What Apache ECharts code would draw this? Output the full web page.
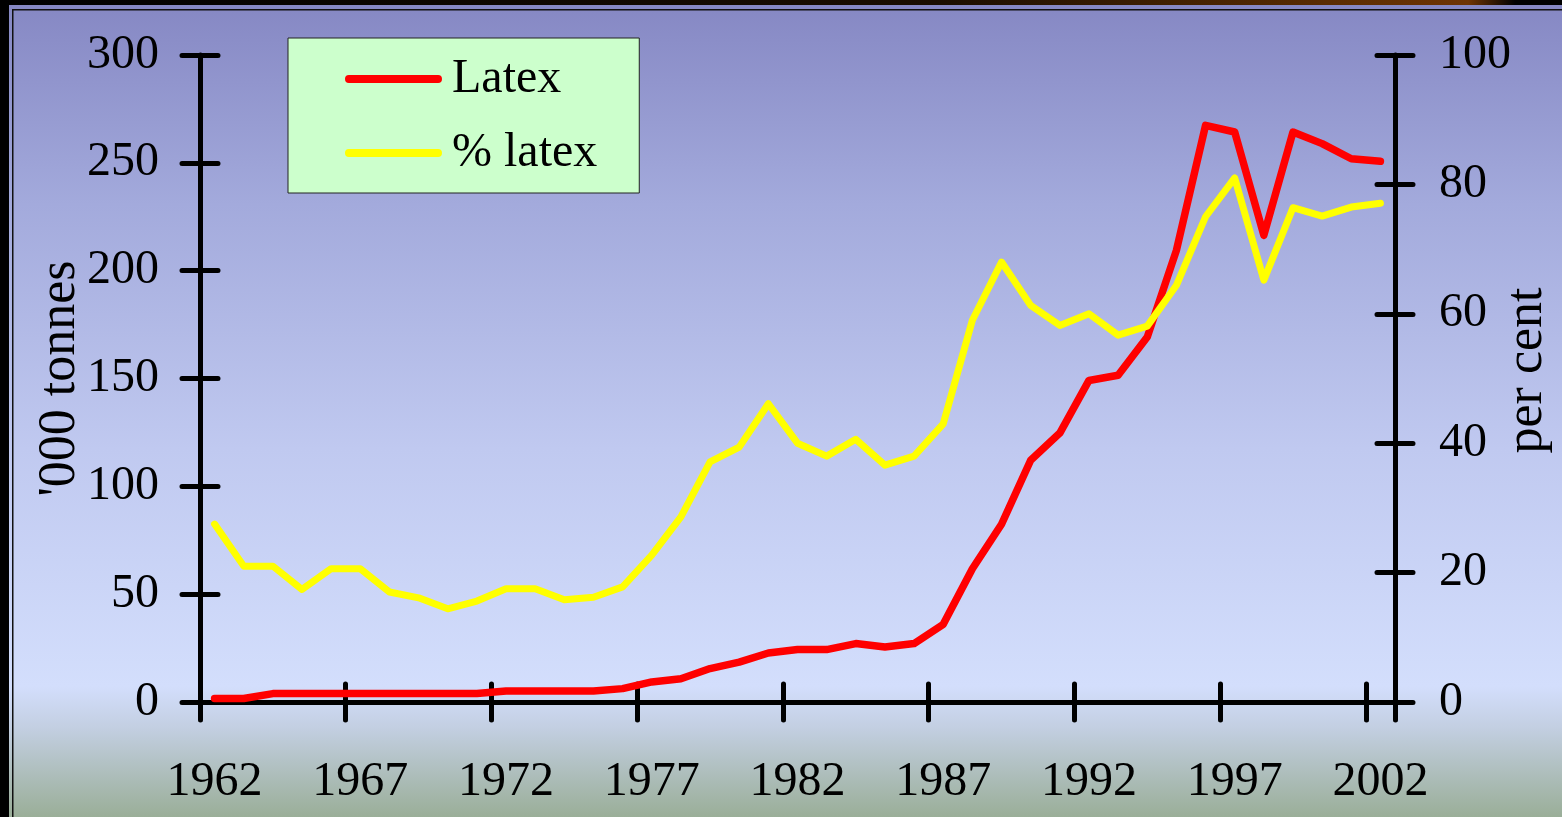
<!DOCTYPE html>
<html>
<head>
<meta charset="utf-8">
<script src="https://cdn.jsdelivr.net/npm/echarts@6/dist/echarts.min.js"></script>
<style>
  html, body { margin: 0; padding: 0; }
  #chart {
    width: 1562px; height: 817px;
    background: linear-gradient(to bottom, #8587c3 0%, #a3aadc 25%, #c0c9f0 55%, #d3defc 84%, #c3cfe2 89%, #9aae98 100%);
  }
</style>
</head>
<body>
<div id="chart"></div>
<script>
const years = ['1962','1963','1964','1965','1966','1967','1968','1969','1970','1971',
  '1972','1973','1974','1975','1976','1977','1978','1979','1980','1981',
  '1982','1983','1984','1985','1986','1987','1988','1989','1990','1991',
  '1992','1993','1994','1995','1996','1997','1998','1999','2000','2001','2002'];

// Latex, '000 tonnes (left axis)
const latex = [1.6, 1.6, 3.9, 3.9, 3.9, 3.9, 3.9, 3.9, 3.9, 3.9,
  5.1, 5.1, 5.1, 5.1, 6.2, 9.3, 10.8, 15.5, 18.5, 22.7,
  24.3, 24.3, 27.1, 25.5, 27.1, 36.0, 61.8, 82.4, 112.1, 124.7,
  149.1, 151.5, 169.2, 209.4, 267.4, 264.3, 216.4, 264.3, 258.9, 251.9, 250.7];

// % latex, per cent (right axis)
const pctLatex = [27.5, 21.0, 21.0, 17.4, 20.6, 20.6, 17.0, 16.1, 14.4, 15.6,
  17.5, 17.5, 15.8, 16.2, 17.8, 22.7, 28.6, 37.1, 39.4, 46.1,
  40.0, 38.0, 40.6, 36.6, 38.0, 43.0, 59.0, 68.0, 61.3, 58.2,
  60.0, 56.7, 58.1, 64.4, 75.0, 81.0, 65.2, 76.4, 75.1, 76.5, 77.1];

const seriesNames = ['Latex', '% latex'];
const leftAxisName = "'000 tonnes";
const rightAxisName = 'per cent';

const FONT = "'Liberation Serif', 'Times New Roman', serif";
const tickStyle = { color: '#000', width: 5, cap: 'round' };

const chart = echarts.init(document.getElementById('chart'), null, { renderer: 'canvas' });

chart.setOption({
  backgroundColor: 'transparent',
  animation: false,
  grid: { left: 200, right: 167, top: 55, bottom: 115, containLabel: false, outerBoundsMode: 'none' },
  legend: {
    left: 288, top: 38, orient: 'vertical',
    backgroundColor: '#ccffcc', borderColor: '#222', borderWidth: 1,
    padding: [15, 42, 14, 57],
    itemWidth: 97, itemHeight: 8, itemGap: 22,
    icon: 'path://M4,0 L96,0 A4,4 0 0 1 96,8 L4,8 A4,4 0 0 1 4,0 Z',
    itemStyle: { borderWidth: 0 },
    textStyle: { fontFamily: FONT, fontSize: 48, color: '#000', lineHeight: 50, padding: [2, 0, 0, 5] },
    data: seriesNames
  },
  xAxis: [
    {
      type: 'category', data: years, position: 'bottom', boundaryGap: true,
      axisLine: { show: true, lineStyle: { color: '#000', width: 5 } },
      axisTick: { show: true, interval: 4, length: 18, lineStyle: tickStyle },
      axisLabel: { interval: 4, fontFamily: FONT, fontSize: 48, color: '#000', margin: 56 },
      splitLine: { show: false }
    },
    {
      type: 'category', data: years, position: 'bottom', boundaryGap: true,
      axisLine: { show: false },
      axisTick: { show: true, inside: true, interval: 4, length: 18, lineStyle: tickStyle },
      axisLabel: { show: false },
      splitLine: { show: false }
    }
  ],
  yAxis: [
    {
      type: 'value', position: 'left', min: 0, max: 300, interval: 50,
      axisLine: { show: true, lineStyle: { color: '#000', width: 5 } },
      axisTick: { show: true, length: 18, lineStyle: tickStyle },
      axisLabel: { fontFamily: FONT, fontSize: 48, color: '#000', margin: 41 },
      splitLine: { show: false },
      name: leftAxisName, nameLocation: 'middle', nameRotate: 90, nameGap: 114,
      nameMoveOverlap: false,
      nameTextStyle: { fontFamily: FONT, fontSize: 52, color: '#000' }
    },
    {
      type: 'value', position: 'right', min: 0, max: 100, interval: 20,
      axisLine: { show: true, lineStyle: { color: '#000', width: 5 } },
      axisTick: { show: true, length: 18, lineStyle: tickStyle },
      axisLabel: { fontFamily: FONT, fontSize: 48, color: '#000', margin: 44 },
      splitLine: { show: false },
      name: rightAxisName, nameLocation: 'middle', nameRotate: 90, nameGap: 106,
      nameMoveOverlap: false,
      nameTextStyle: { fontFamily: FONT, fontSize: 52, color: '#000', padding: [0, 0, 0, 16] }
    },
    {
      type: 'value', position: 'left', min: 0, max: 300, interval: 50,
      axisLine: { show: false },
      axisTick: { show: true, inside: true, length: 18, lineStyle: tickStyle },
      axisLabel: { show: false }, splitLine: { show: false }
    },
    {
      type: 'value', position: 'right', min: 0, max: 100, interval: 20,
      axisLine: { show: false },
      axisTick: { show: true, inside: true, length: 18, lineStyle: tickStyle },
      axisLabel: { show: false }, splitLine: { show: false }
    }
  ],
  series: [
    {
      name: seriesNames[0], type: 'line', xAxisIndex: 0, yAxisIndex: 0,
      data: latex, showSymbol: false, symbol: 'none',
      itemStyle: { color: '#ff0000' },
      lineStyle: { color: '#ff0000', width: 7.5, cap: 'round', join: 'round' },
      z: 3
    },
    {
      name: seriesNames[1], type: 'line', xAxisIndex: 0, yAxisIndex: 1,
      data: pctLatex, showSymbol: false, symbol: 'none',
      itemStyle: { color: '#ffff00' },
      lineStyle: { color: '#ffff00', width: 7, cap: 'round', join: 'round' },
      z: 4
    }
  ],
  graphic: [
    { type: 'rect', left: 0, top: 0, shape: { width: 9, height: 817 }, style: { fill: '#000' }, z: 100 },
    { type: 'rect', left: 12, top: 9, shape: { width: 1.5, height: 808 }, style: { fill: '#111' }, z: 100 },
    { type: 'rect', left: 0, top: 0, shape: { width: 1562, height: 5 },
      style: { fill: new echarts.graphic.LinearGradient(0, 0, 1, 0, [
        { offset: 0, color: '#000' }, { offset: 0.6, color: '#1a0d00' },
        { offset: 0.85, color: '#5a2c02' }, { offset: 0.94, color: '#6e3404' }, { offset: 0.97, color: '#000' }, { offset: 1, color: '#000' }
      ]) }, z: 100 },
    { type: 'rect', left: 12, top: 9, shape: { width: 1550, height: 1.5 }, style: { fill: '#111' }, z: 100 }
  ]
});
</script>
</body>
</html>
